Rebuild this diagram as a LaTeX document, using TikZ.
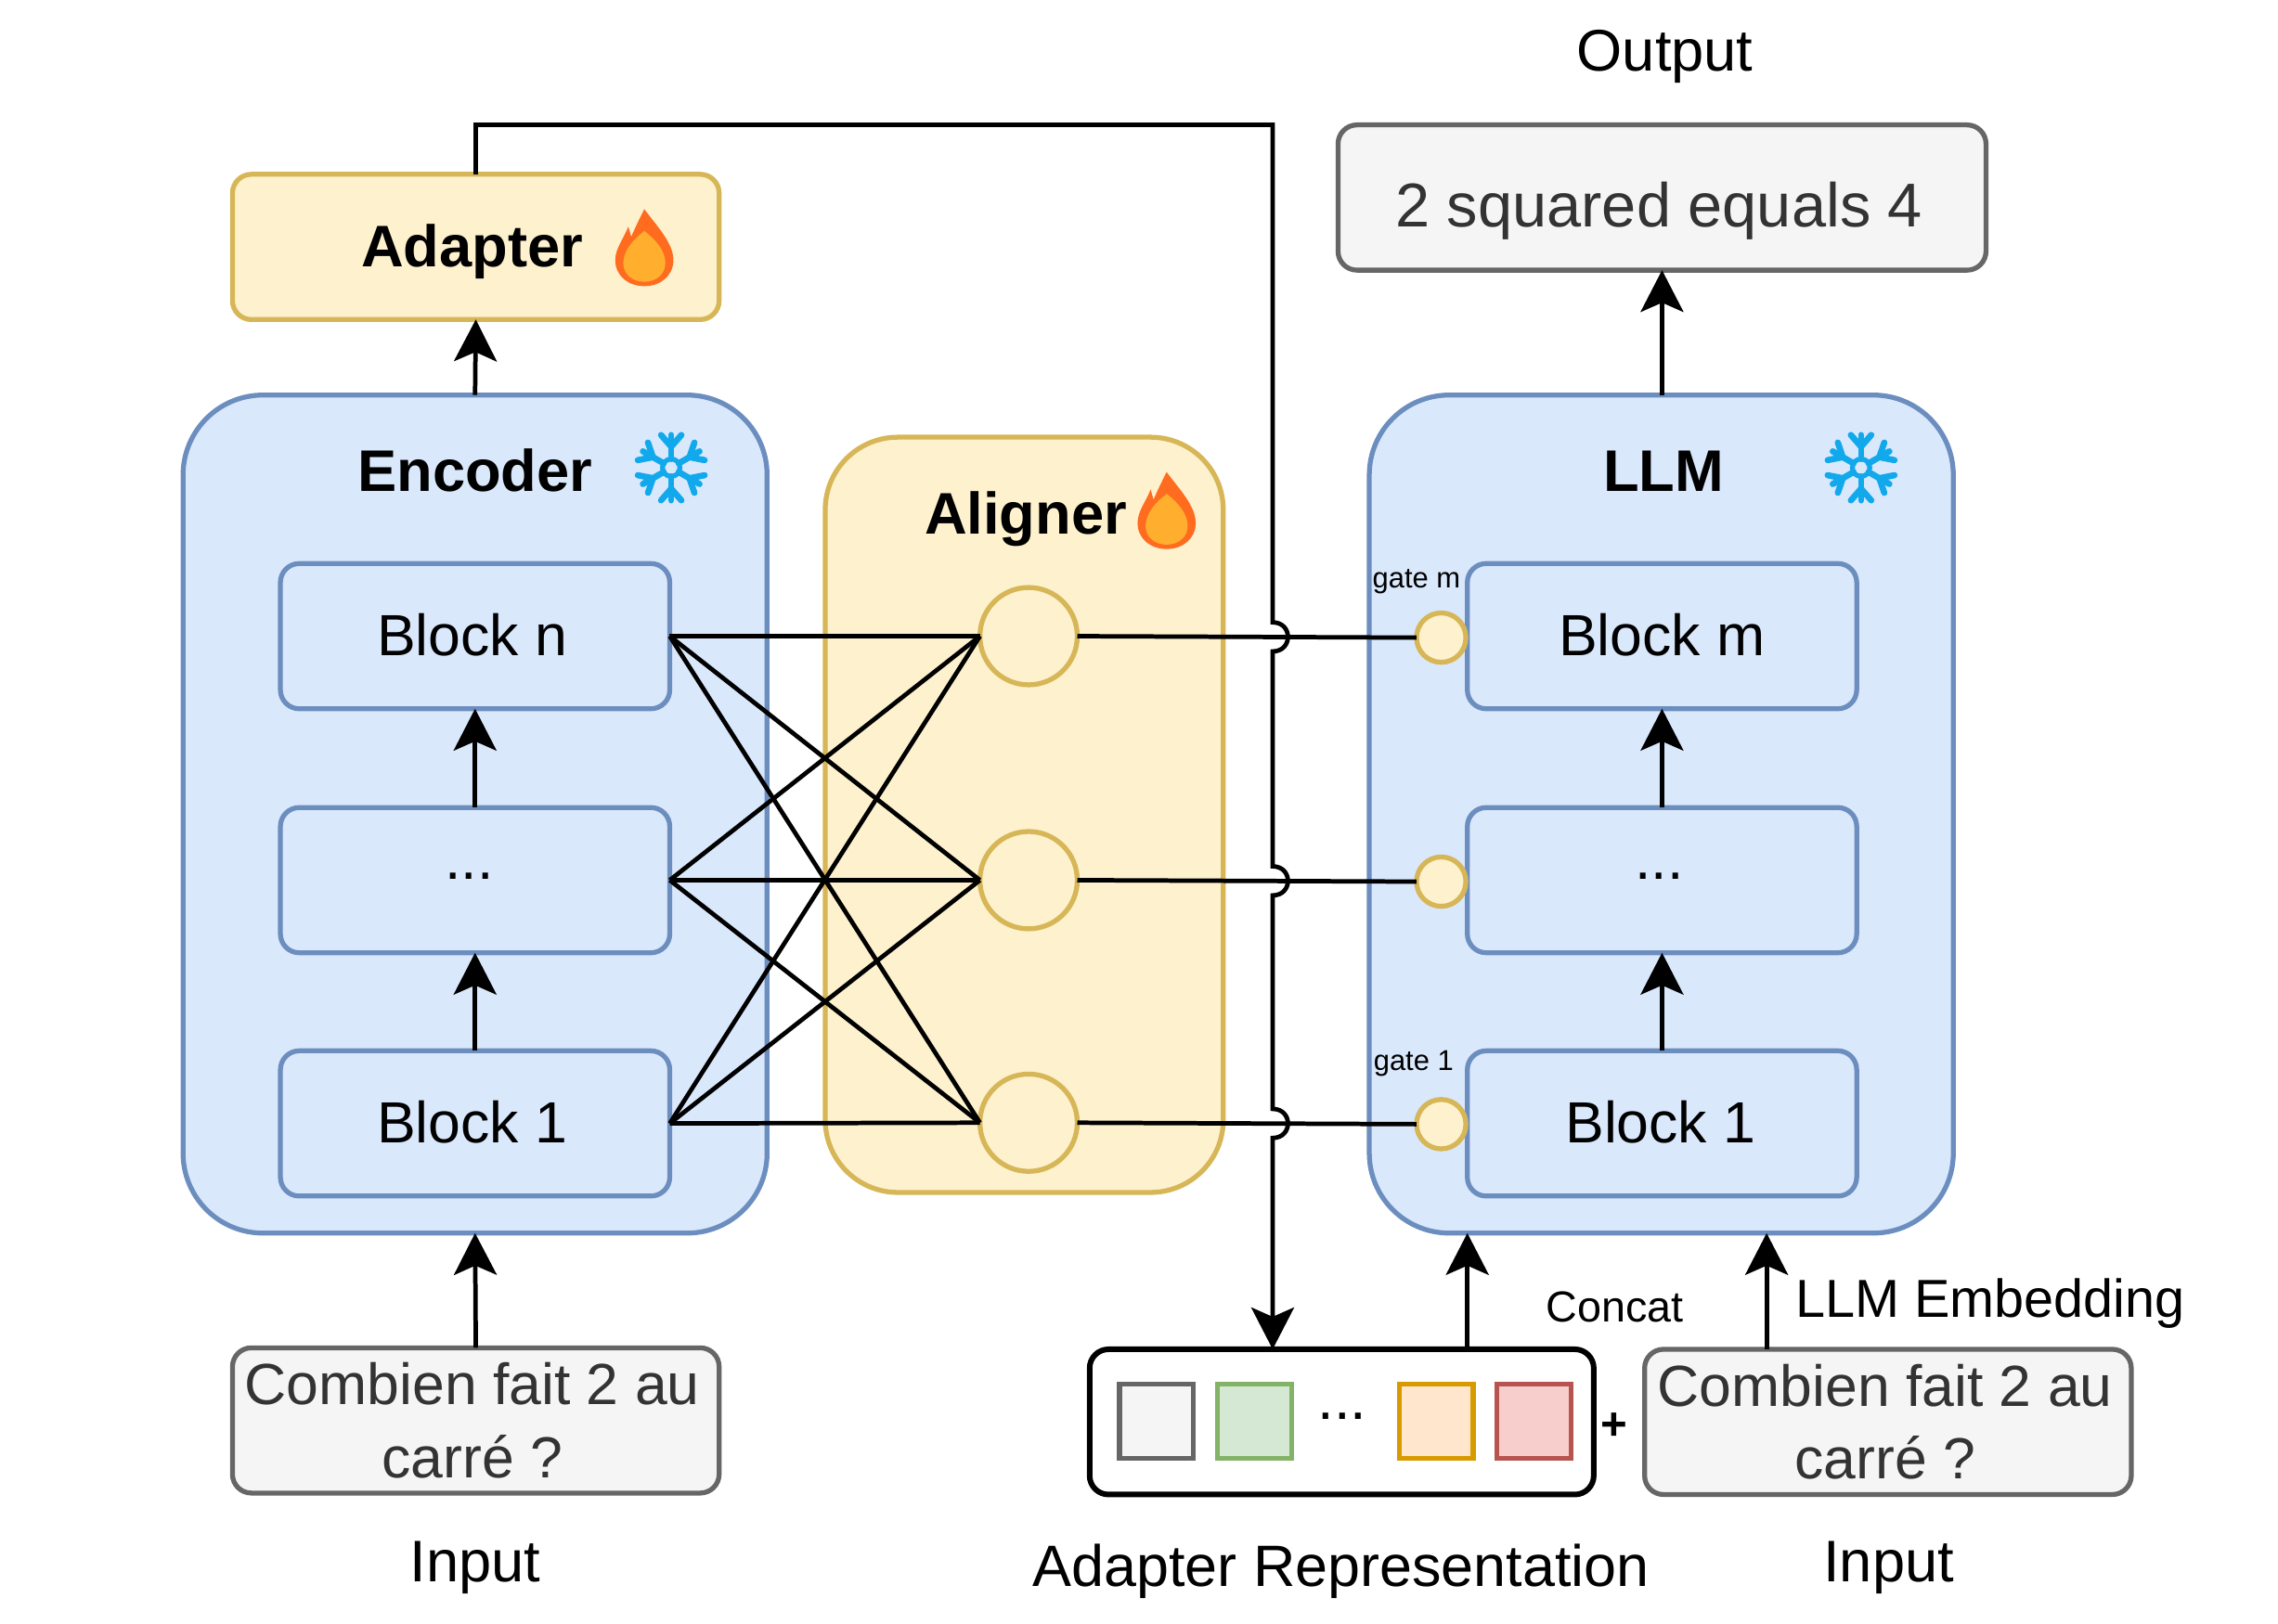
\documentclass[tikz,border=0pt]{standalone}
\usepackage{fontspec}
\setmainfont{Liberation Sans}
\usetikzlibrary{arrows.meta,calc}
\definecolor{bluef}{HTML}{DAE8FC}\definecolor{blues}{HTML}{6C8EBF}
\definecolor{yelf}{HTML}{FDF1CE}\definecolor{yels}{HTML}{D6B656}
\definecolor{grayf}{HTML}{F5F5F5}\definecolor{grays}{HTML}{666666}
\definecolor{grnf}{HTML}{D5E8D4}\definecolor{grns}{HTML}{82B366}
\definecolor{orgf}{HTML}{FFE6CC}\definecolor{orgs}{HTML}{D79B00}
\definecolor{redf}{HTML}{F8CECC}\definecolor{reds}{HTML}{B85450}
\definecolor{txtg}{HTML}{333333}\definecolor{flameo}{HTML}{FF6B1F}
\definecolor{flamei}{HTML}{FFAE2D}\definecolor{snowc}{HTML}{12A9EC}
\newdimen\unitpx \unitpx=0.01565cm
\newcommand{\nudge}[1]{\hspace*{#1\unitpx}}
\tikzset{
  wh/.style 2 args={minimum width=#1*0.01565cm,minimum height=#2*0.01565cm},
  rr/.style={rounded corners=#1*0.01565cm},
  base/.style={inner sep=0pt,outer sep=0pt,line width=1.5pt,align=center},
  fs18/.style={font=\fontsize{17.8}{22.3}\selectfont},
  blk/.style={base,fs18,draw=blues,fill=bluef,wh={268}{100},rr=13},
  group/.style={base,draw=blues,fill=bluef,wh={402}{577},rr=55},
  yelbox/.style={base,draw=yels,fill=yelf},
  inbox/.style={base,fs18,draw=grays,fill=grayf,text=txtg,wh={335}{100},rr=13},
  sq/.style={base,wh={51}{51}},
  title/.style={inner sep=0pt,outer sep=0pt,anchor=base,font=\fontsize{18}{22}\selectfont\bfseries},
  lab/.style={inner sep=0pt,outer sep=0pt,anchor=base,font=\fontsize{#1}{#1}\selectfont},
  lab/.default=18,
  wire/.style={draw=black,line width=1.35pt},
  arr/.style={wire,-{Stealth[length=0.45cm,width=0.46cm,inset=0.1cm]}},
  bub/.style={base,circle,draw=yels,fill=yelf},
  flame/.pic={
    \fill[flameo] (0,-53) .. controls (8,-42) and (20,-30) .. (20,-18)
      .. controls (20,-7) and (11,0) .. (0,0)
      .. controls (-11,0) and (-20,-7) .. (-20,-18)
      .. controls (-20,-26) and (-14,-33) .. (-11,-41)
      -- (-9,-34) .. controls (-6,-41) and (-3,-47) .. (0,-53) -- cycle;
    \fill[flamei] (0,-38) .. controls (8,-32) and (14.5,-24) .. (14.5,-16)
      .. controls (14.5,-8) and (8,-3) .. (0,-3)
      .. controls (-8,-3) and (-14.5,-8) .. (-14.5,-16)
      .. controls (-14.5,-24) and (-8,-32) .. (0,-38) -- cycle;
  },
  snow/.pic={
    \draw[snowc,line width=1.5pt] (0,0) circle[radius=6*0.01565cm];
    \foreach \a in {30,90,150,210,270,330}{
      \begin{scope}[rotate=\a]
        \draw[snowc,line width=1.9pt,line cap=round] (6,0) -- (22.5,0);
        \draw[snowc,line width=1.9pt,line cap=round] (22.5,7) -- (14.5,0) -- (22.5,-7);
      \end{scope}
    }
  }
}
\begin{document}
\begin{tikzpicture}[x=0.01565cm,y=-0.01565cm]
\useasboundingbox (0,0) rectangle (1568,1118);
% groups
\node[group] (enc) at (327,560.5) {};
\node[group] (llm) at (1143.5,560.5) {};
\node[yelbox,wh={274}{520},rr=50] (ali) at (705,561) {};
\node[yelbox,wh={335}{100},rr=13] (adp) at (327.5,170) {};
% blocks
\node[blk,text depth=0.9pt] (en) at (327,438) {Block n\nudge{4}};
\node[blk,text depth=2.6pt] (ed) at (327,606) {...\nudge{8}};
\node[blk,text depth=0.9pt] (e1) at (327,773.5) {Block 1\nudge{4}};
\node[blk,text depth=0.9pt] (ln) at (1144,438) {Block m};
\node[blk,text depth=2.6pt] (ld) at (1144,606) {...\nudge{4}};
\node[blk,text depth=0.9pt] (l1) at (1144,773.5) {Block 1\nudge{2}};
% aligner circles
\node[bub,minimum size=67*0.01565cm] (c1) at (708,438) {};
\node[bub,minimum size=67*0.01565cm] (c2) at (708,606) {};
\node[bub,minimum size=67*0.01565cm] (c3) at (708,773) {};
% gates
\node[bub,minimum size=34*0.01565cm] (g1) at (992,439) {};
\node[bub,minimum size=34*0.01565cm] (g2) at (992,607) {};
\node[bub,minimum size=34*0.01565cm] (g3) at (992,774) {};
% other boxes
\node[base,font=\fontsize{19}{22}\selectfont,draw=grays,fill=grayf,text=txtg,wh={446}{100},rr=13,text height=22pt,text depth=4pt] (out) at (1144,136) {2 squared equals 4\nudge{4}};
\node[inbox] (inl) at (327.5,978) {Combien fait 2 au\nudge{5}\\carré ?\nudge{5}};
\node[inbox] (inr) at (1299.5,979) {Combien fait 2 au\nudge{4}\\carré ?\nudge{4}};
\node[base,line width=1.7pt,draw=black,fill=white,wh={347}{100},rr=13] (rep) at (923.5,979) {};
\node[sq,draw=grays,fill=grayf] (s1) at (796,978.5) {};
\node[sq,draw=grns,fill=grnf] (s2) at (863.5,978.5) {};
\node[sq,draw=orgs,fill=orgf] (s3) at (988.5,978.5) {};
\node[sq,draw=reds,fill=redf] (s4) at (1056,978.5) {};
% titles and labels
\node[title] (tadp) at (325,184) {Adapter};
\node[title] (tenc) at (327,338) {Encoder};
\node[title] (tali) at (706,368) {Aligner};
\node[title] (tllm) at (1145,338) {LLM};
\node[lab] (lout) at (1146,49) {Output};
\node[lab] (lin1) at (327,1089) {Input};
\node[lab] (lin2) at (1300,1089) {Input};
\node[lab=17.9] (lrep) at (923,1092) {Adapter Representation};
\node[lab=13.3] (lcon) at (1111.5,910) {Concat};
\node[lab=16.4] (lemb) at (1370,907) {LLM Embedding};
\node[lab=8.8] (lgm) at (975,405) {gate m};
\node[lab=8.8] (lg1) at (973,737) {gate 1};
\node[lab=18] (ldot) at (924,977) {...};
\node[lab=14] (lplus) at (1111,991) {\bfseries +};
% icons
\pic at (443.5,197) {flame};
\pic at (803,378) {flame};
\pic at (462,322) {snow};
\pic at (1281,322) {snow};
% named points
\coordinate (corner) at (876,86);
\coordinate (j1) at (876,438.5);
\coordinate (j2) at (876,606.5);
\coordinate (j3) at (876,773.5);
\coordinate (emb) at (1216,849);
% full bipartite wiring
\foreach \s in {en,ed,e1}{
  \foreach \t in {c1,c2,c3}{
    \draw[wire] (\s.east) -- (\t.west);
  }
}
\draw[wire] (c1.east) -- (g1.west);
\draw[wire] (c2.east) -- (g2.west);
\draw[wire] (c3.east) -- (g3.west);
% long adapter line with jumps
\draw[arr] (adp.north) |- (corner)
  -- ($(j1)+(0,-10)$) .. controls ($(j1)+(14,-10)$) and ($(j1)+(14,10)$) .. ($(j1)+(0,10)$)
  -- ($(j2)+(0,-10)$) .. controls ($(j2)+(14,-10)$) and ($(j2)+(14,10)$) .. ($(j2)+(0,10)$)
  -- ($(j3)+(0,-10)$) .. controls ($(j3)+(14,-10)$) and ($(j3)+(14,10)$) .. ($(j3)+(0,10)$)
  -- (rep.north -| corner);
% vertical arrows
\draw[arr] (enc.north) -- (adp.south);
\draw[arr] (llm.north -| out.south) -- (out.south);
\draw[arr] (ed.north) -- (en.south);
\draw[arr] (e1.north) -- (ed.south);
\draw[arr] (ld.north) -- (ln.south);
\draw[arr] (l1.north) -- (ld.south);
\draw[arr] (inl.north) -- (enc.south);
\draw[arr] (rep.north -| l1.west) -- (llm.south -| l1.west);
\draw[arr] (inr.north -| emb) -- (emb);
\end{tikzpicture}
\end{document}
